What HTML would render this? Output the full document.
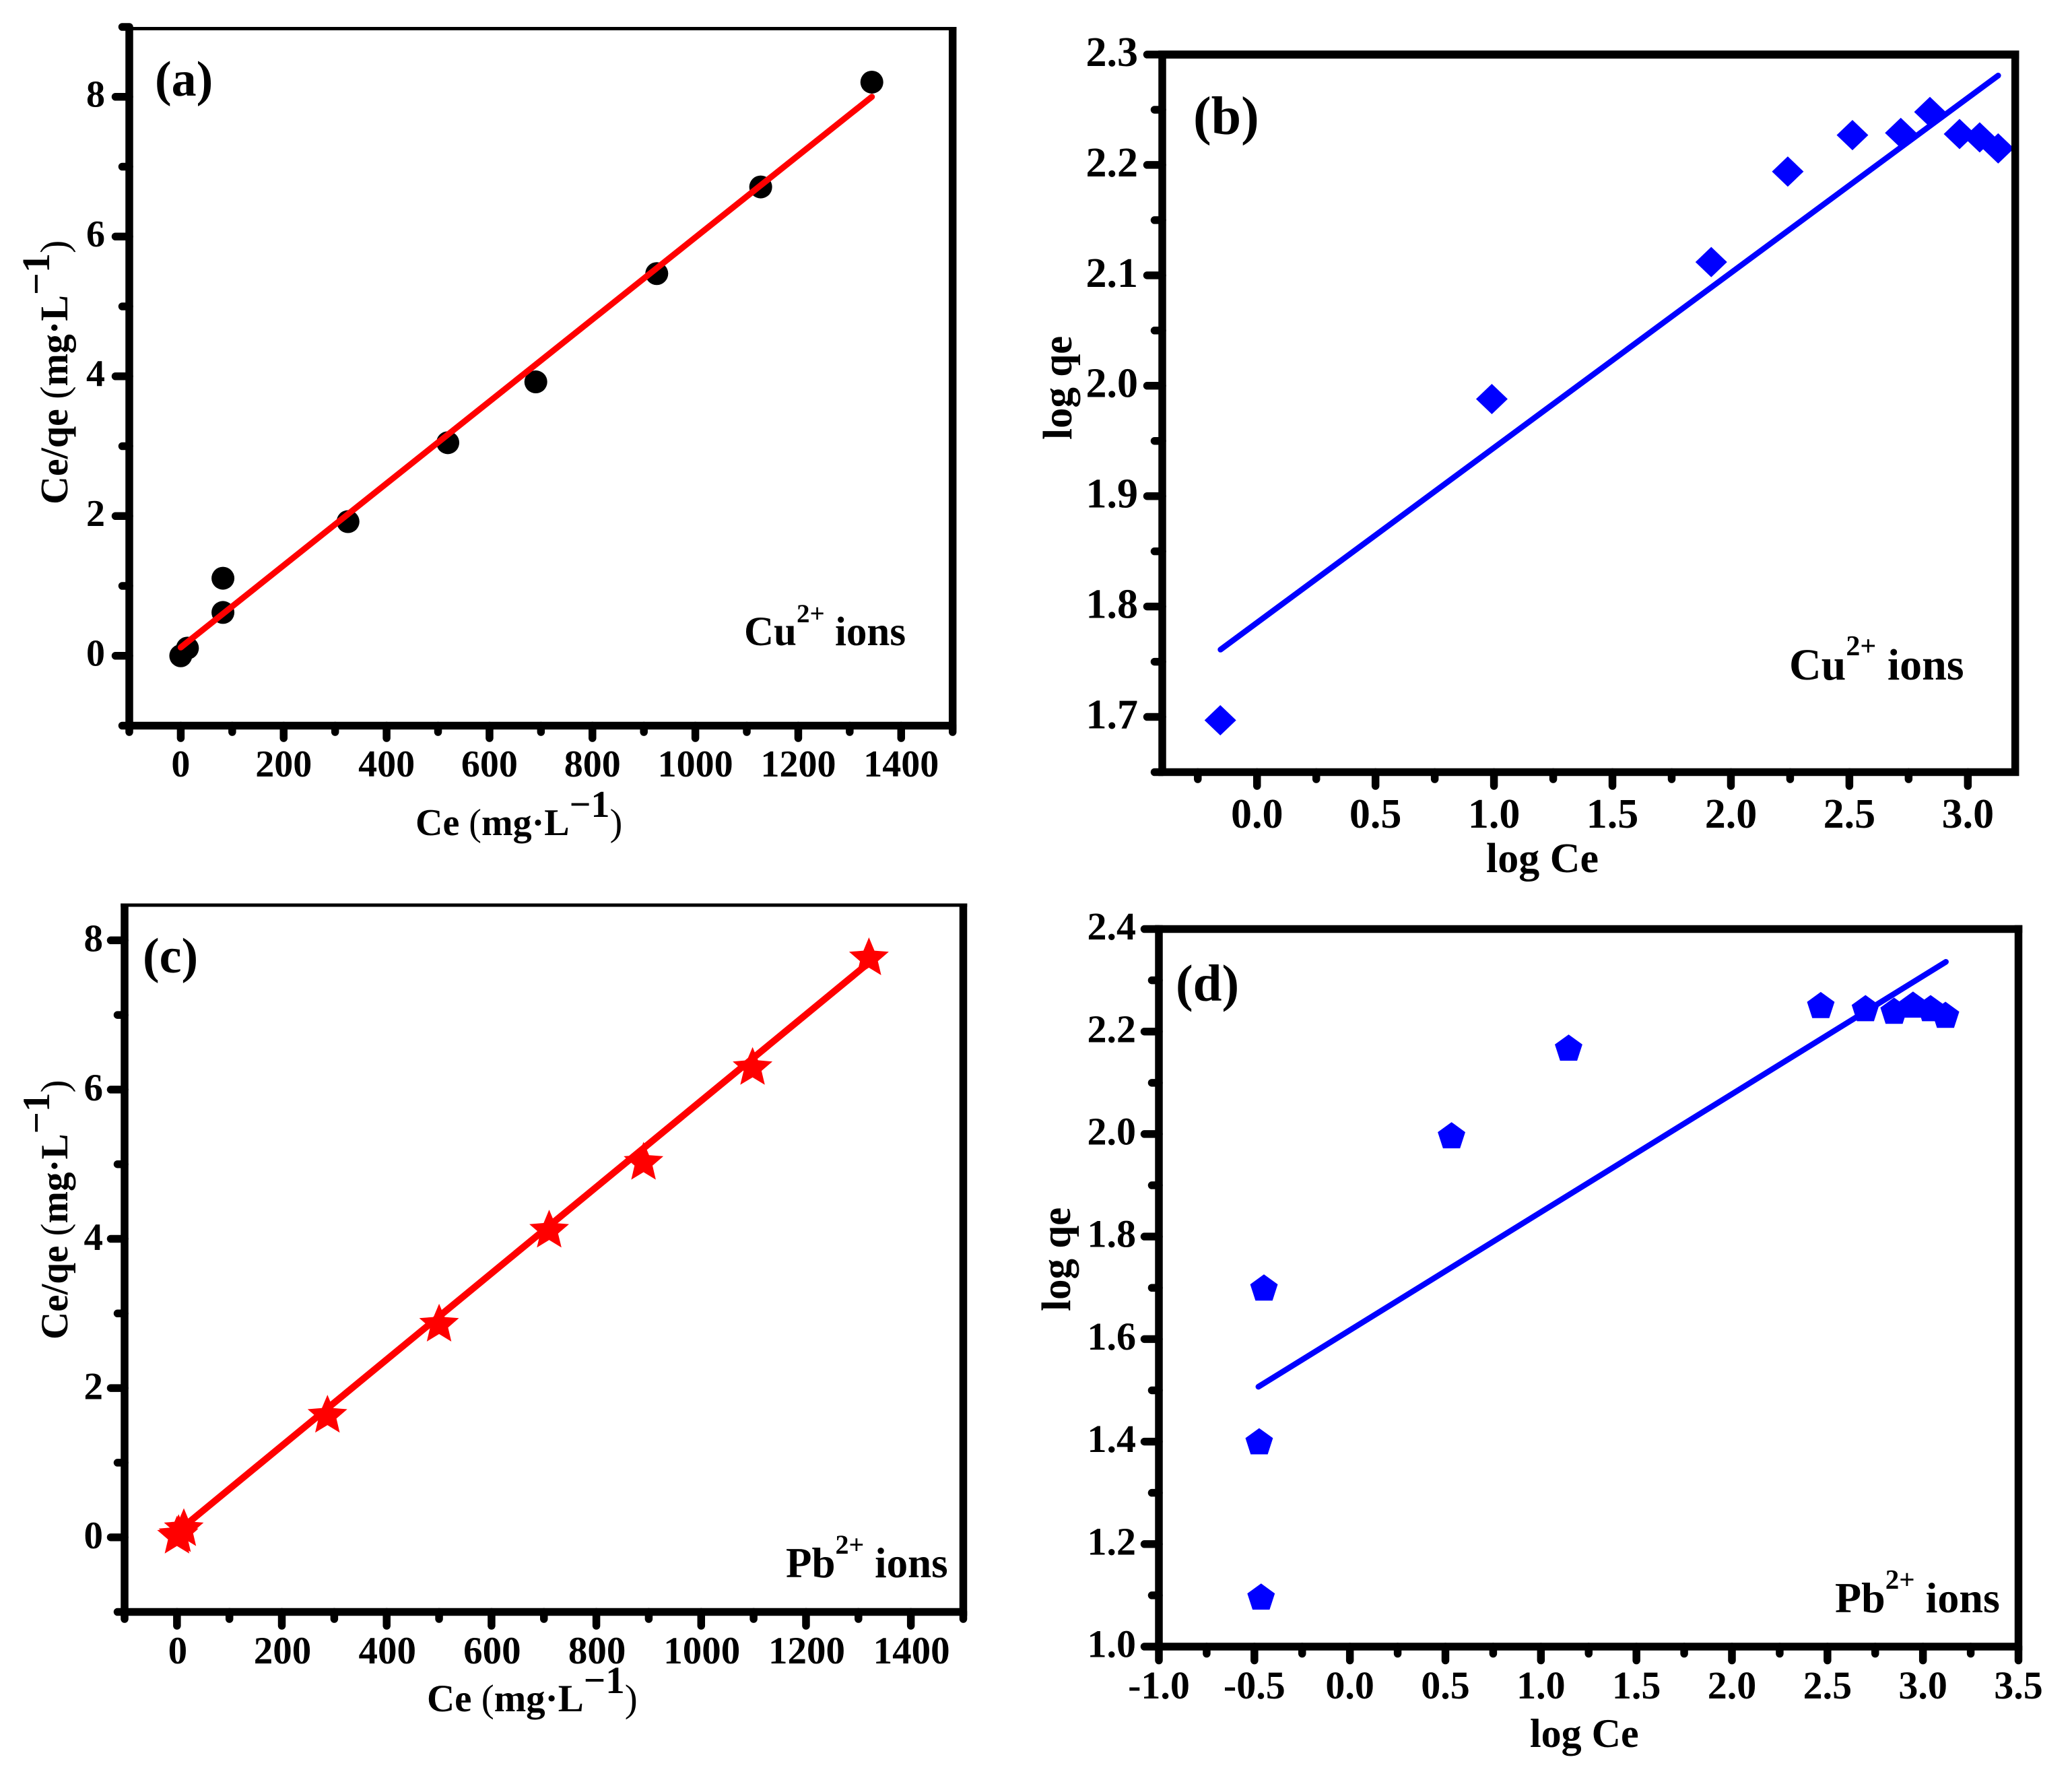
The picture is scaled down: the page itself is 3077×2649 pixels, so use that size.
<!DOCTYPE html>
<html lang="en">
<head>
<meta charset="utf-8">
<title>Isotherm fits for Cu2+ and Pb2+ ions</title>
<style>
  html, body { margin: 0; padding: 0; background: #fff; }
  svg { display: block; }
  text { font-family: "Liberation Serif", "Times New Roman", serif; font-weight: bold; fill: #000; }
  .thin { font-weight: normal; }
</style>
</head>
<body>
<svg id="figure" xmlns="http://www.w3.org/2000/svg" width="3077" height="2649" viewBox="0 0 3077 2649">
  <rect width="3077" height="2649" fill="#fff"/>

  <g id="panel-a"></g>
  <g id="panel-b"></g>
  <g id="panel-c"></g>
  <g id="panel-d"></g>

  <text x="230" y="142" font-size="74">(a)</text>
  <text x="1772" y="199" font-size="80">(b)</text>
  <text x="212" y="1444" font-size="74">(c)</text>
  <text x="1746" y="1486" font-size="77">(d)</text>

  <text x="1105" y="958" font-size="61">Cu<tspan font-size="39" dy="-34">2+</tspan><tspan dy="34"> ions</tspan></text>
  <text x="2657" y="1009" font-size="66">Cu<tspan font-size="42" dy="-36">2+</tspan><tspan dy="36"> ions</tspan></text>
  <text x="1167" y="2342" font-size="63">Pb<tspan font-size="40" dy="-35">2+</tspan><tspan dy="35"> ions</tspan></text>
  <text x="2725" y="2394" font-size="64">Pb<tspan font-size="41" dy="-35">2+</tspan><tspan dy="35"> ions</tspan></text>

  <text x="617" y="1240" font-size="56">Ce <tspan class="thin">(</tspan>mg·L<tspan dy="-27">−1</tspan><tspan class="thin" dy="27">)</tspan></text>
  <text transform="translate(100,749) rotate(-90)" font-size="58">Ce/qe <tspan class="thin">(</tspan>mg·L<tspan dy="-27">−1</tspan><tspan class="thin" dy="27">)</tspan></text>

  <text x="2207" y="1295" font-size="62">log Ce</text>
  <text transform="translate(1591,653) rotate(-90)" font-size="61">log qe</text>

  <text x="634" y="2541" font-size="57">Ce <tspan class="thin">(</tspan>mg·L<tspan dy="-27">−1</tspan><tspan class="thin" dy="27">)</tspan></text>
  <text transform="translate(100,1989) rotate(-90)" font-size="57">Ce/qe <tspan class="thin">(</tspan>mg·L<tspan dy="-27">−1</tspan><tspan class="thin" dy="27">)</tspan></text>

  <text x="2272" y="2594" font-size="60">log Ce</text>
  <text transform="translate(1589,1947) rotate(-90)" font-size="61">log qe</text>
</svg>

<script>
// ---------- Panel (a) data ----------
const aCe = [0, 13, 82, 82, 325, 519, 690, 925, 1127, 1343];
const aRatio = [0, 0.11, 0.62, 1.11, 1.92, 3.05, 3.92, 5.47, 6.71, 8.21];
const aFitCe = [0, 1343];
const aFitRatio = [0.12, 8.0];
const aXMajor = [0, 200, 400, 600, 800, 1000, 1200, 1400];
const aXMajorLabels = ['0', '200', '400', '600', '800', '1000', '1200', '1400'];
const aXMinor = [-100, 100, 300, 500, 700, 900, 1100, 1300, 1500];
const aYMajor = [0, 2, 4, 6, 8];
const aYMajorLabels = ['0', '2', '4', '6', '8'];
const aYMinor = [-1, 1, 3, 5, 7, 9];

// ---------- Panel (b) data ----------
const bLogCe = [-0.155, 0.991, 1.917, 2.24, 2.513, 2.717, 2.84, 2.965, 3.05, 3.128];
const bLogQe = [1.697, 1.988, 2.112, 2.194, 2.227, 2.229, 2.248, 2.228, 2.225, 2.215];
const bFitLogCe = [-0.154, 3.128];
const bFitLogQe = [1.761, 2.281];
const bXMajor = [0, 0.5, 1, 1.5, 2, 2.5, 3];
const bXMajorLabels = ['0.0', '0.5', '1.0', '1.5', '2.0', '2.5', '3.0'];
const bXMinor = [-0.25, 0.25, 0.75, 1.25, 1.75, 2.25, 2.75];
const bYMajor = [1.7, 1.8, 1.9, 2.0, 2.1, 2.2, 2.3];
const bYMajorLabels = ['1.7', '1.8', '1.9', '2.0', '2.1', '2.2', '2.3'];
const bYMinor = [1.65, 1.75, 1.85, 1.95, 2.05, 2.15, 2.25];

// ---------- Panel (c) data ----------
const cCe = [0, 3, 13, 287, 500, 710, 890, 1098, 1320];
const cRatio = [0.01, 0.03, 0.11, 1.63, 2.85, 4.11, 5.02, 6.29, 7.76];
const cFitCe = [0, 1320];
const cFitRatio = [0.07, 7.7];
const cXMajor = [0, 200, 400, 600, 800, 1000, 1200, 1400];
const cXMajorLabels = ['0', '200', '400', '600', '800', '1000', '1200', '1400'];
const cXMinor = [-100, 100, 300, 500, 700, 900, 1100, 1300, 1500];
const cYMajor = [0, 2, 4, 6, 8];
const cYMajorLabels = ['0', '2', '4', '6', '8'];
const cYMinor = [-1, 1, 3, 5, 7];

// ---------- Panel (d) data ----------
const dLogCe = [-0.465, -0.475, -0.45, 0.532, 1.145, 2.465, 2.699, 2.849, 2.948, 3.04, 3.118];
const dLogQe = [1.095, 1.398, 1.698, 1.995, 2.166, 2.249, 2.243, 2.238, 2.25, 2.243, 2.23];
const dFitLogCe = [-0.479, 3.12];
const dFitLogQe = [1.507, 2.336];
const dXMajor = [-1, -0.5, 0, 0.5, 1, 1.5, 2, 2.5, 3, 3.5];
const dXMajorLabels = ['-1.0', '-0.5', '0.0', '0.5', '1.0', '1.5', '2.0', '2.5', '3.0', '3.5'];
const dXMinor = [-0.75, -0.25, 0.25, 0.75, 1.25, 1.75, 2.25, 2.75, 3.25];
const dYMajor = [1.0, 1.2, 1.4, 1.6, 1.8, 2.0, 2.2, 2.4];
const dYMajorLabels = ['1.0', '1.2', '1.4', '1.6', '1.8', '2.0', '2.2', '2.4'];
const dYMinor = [1.1, 1.3, 1.5, 1.7, 1.9, 2.1, 2.3];

const NS = 'http://www.w3.org/2000/svg';

function scale(d0, d1, r0, r1) {
  return function (v) { return r0 + (v - d0) * (r1 - r0) / (d1 - d0); };
}

function svgEl(parent, tag, props) {
  const el = document.createElementNS(NS, tag);
  for (const k in props) el.setAttribute(k, props[k]);
  parent.appendChild(el);
  return el;
}

function polyPoints(cx, cy, outer, inner, n) {
  const pts = [];
  const steps = inner ? n * 2 : n;
  for (let i = 0; i < steps; i++) {
    const r = inner && i % 2 ? inner : outer;
    const a = -Math.PI / 2 + i * 2 * Math.PI / steps;
    pts.push((cx + r * Math.cos(a)).toFixed(1) + ',' + (cy + r * Math.sin(a)).toFixed(1));
  }
  return pts.join(' ');
}

function drawMarker(g, kind, cx, cy, color) {
  let el;
  if (kind === 'circle') {
    el = svgEl(g, 'circle', { cx: cx, cy: cy, r: 17, fill: color });
  } else if (kind === 'diamond') {
    el = svgEl(g, 'polygon', {
      points: cx + ',' + (cy - 22.5) + ' ' + (cx + 23.5) + ',' + cy + ' ' + cx + ',' + (cy + 22.5) + ' ' + (cx - 23.5) + ',' + cy,
      fill: color
    });
  } else if (kind === 'star') {
    el = svgEl(g, 'polygon', { points: polyPoints(cx, cy, 31, 14, 5), fill: color });
  } else {
    el = svgEl(g, 'polygon', { points: polyPoints(cx, cy, 21.5, 0, 5), fill: color });
  }
  
  
}

function drawPanel(c) {
  const g = document.getElementById(c.id);
  const x = scale(c.xDomain[0], c.xDomain[1], c.left, c.right);
  const y = scale(c.yDomain[0], c.yDomain[1], c.bottom, c.scaleTop);

  // data markers
  const points = svgEl(g, 'g', {});
  
  
  c.px.forEach(function (v, i) {
    drawMarker(points, c.marker, x(v), y(c.py[i]), c.markerColor);
  });

  // fit line
  const fit = svgEl(g, 'line', {
    x1: x(c.fitX[0]), y1: y(c.fitY[0]), x2: x(c.fitX[1]), y2: y(c.fitY[1]),
    stroke: c.lineColor, 'stroke-width': c.lineWidth, 'stroke-linecap': 'round'
  });
  
  

  // frame
  const spineW = 11.5;
  const frame = svgEl(g, 'path', {
    d: 'M' + c.left + ' ' + (c.top - c.topW / 2) + 'V' + c.bottom + 'H' + c.right + 'V' + (c.top - c.topW / 2),
    fill: 'none', stroke: '#000', 'stroke-width': spineW
  });
  
  
  const topSpine = svgEl(g, 'line', {
    x1: c.left - spineW / 2, x2: c.right + spineW / 2, y1: c.top, y2: c.top,
    stroke: '#000', 'stroke-width': c.topW
  });
  
  

  // x ticks
  c.xMajor.forEach(function (v, i) {
    const t = svgEl(g, 'line', {
      x1: x(v), x2: x(v), y1: c.bottom, y2: c.bottom + c.xMajorLen - 5.5,
      stroke: '#000', 'stroke-width': 11.5, 'stroke-linecap': 'round'
    });
    
    
    const l = svgEl(g, 'text', {
      x: x(v) + c.xLabelDx, y: c.xLabelY, 'font-size': c.labelSize, 'text-anchor': 'middle'
    });
    l.textContent = c.xLabels[i];
    
    
  });
  c.xMinor.forEach(function (v) {
    const t = svgEl(g, 'line', {
      x1: x(v), x2: x(v), y1: c.bottom, y2: c.bottom + c.xMinorLen - 5.5,
      stroke: '#000', 'stroke-width': 11.5, 'stroke-linecap': 'round'
    });
    
    
  });

  // y ticks
  c.yMajor.forEach(function (v, i) {
    const t = svgEl(g, 'line', {
      x1: c.left, x2: c.left - c.yMajorLen + 5.5, y1: y(v), y2: y(v),
      stroke: '#000', 'stroke-width': 11.5, 'stroke-linecap': 'round'
    });
    
    
    const l = svgEl(g, 'text', {
      x: c.yLabelX, y: y(v) + c.labelSize * 0.338 + c.labelDy, 'font-size': c.labelSize, 'text-anchor': 'end'
    });
    l.textContent = c.yLabels[i];
    
    
  });
  c.yMinor.forEach(function (v) {
    const t = svgEl(g, 'line', {
      x1: c.left, x2: c.left - c.yMinorLen + 5.5, y1: y(v), y2: y(v),
      stroke: '#000', 'stroke-width': 11.5, 'stroke-linecap': 'round'
    });
    
    
  });
}

drawPanel({
  id: 'panel-a', left: 192, right: 1414.7, bottom: 1077.5, top: 42.5, scaleTop: 40, topW: 5,
  xDomain: [-100, 1500], yDomain: [-1, 9],
  px: aCe, py: aRatio, fitX: aFitCe, fitY: aFitRatio,
  marker: 'circle', markerColor: '#000', lineColor: '#f00', lineWidth: 9,
  xMajor: aXMajor, xLabels: aXMajorLabels, xMinor: aXMinor,
  yMajor: aYMajor, yLabels: aYMajorLabels, yMinor: aYMinor,
  xMajorLen: 24, xMinorLen: 15, yMajorLen: 26, yMinorLen: 16,
  labelSize: 56, labelDy: -4, xLabelY: 1153, xLabelDx: 0, yLabelX: 156
});

drawPanel({
  id: 'panel-b', left: 1726, right: 2992.7, bottom: 1146.5, top: 81, scaleTop: 81, topW: 12,
  xDomain: [-0.4, 3.2], yDomain: [1.65, 2.3],
  px: bLogCe, py: bLogQe, fitX: bFitLogCe, fitY: bFitLogQe,
  marker: 'diamond', markerColor: '#00f', lineColor: '#00f', lineWidth: 8.5,
  xMajor: bXMajor, xLabels: bXMajorLabels, xMinor: bXMinor,
  yMajor: bYMajor, yLabels: bYMajorLabels, yMinor: bYMinor,
  xMajorLen: 26, xMinorLen: 16, yMajorLen: 28, yMinorLen: 17,
  labelSize: 62, labelDy: -4, xLabelY: 1229, xLabelDx: 0, yLabelX: 1690
});

drawPanel({
  id: 'panel-c', left: 185, right: 1430.5, bottom: 2393.5, top: 1344, scaleTop: 1340.9, topW: 5,
  xDomain: [-100, 1500], yDomain: [-1, 8.5],
  px: cCe, py: cRatio, fitX: cFitCe, fitY: cFitRatio,
  marker: 'star', markerColor: '#f00', lineColor: '#f00', lineWidth: 10,
  xMajor: cXMajor, xLabels: cXMajorLabels, xMinor: cXMinor,
  yMajor: cYMajor, yLabels: cYMajorLabels, yMinor: cYMinor,
  xMajorLen: 26, xMinorLen: 16, yMajorLen: 26, yMinorLen: 16,
  labelSize: 57, labelDy: -3, xLabelY: 2470, xLabelDx: 1, yLabelX: 153
});

drawPanel({
  id: 'panel-d', left: 1721, right: 2997.5, bottom: 2445, top: 1379.5, scaleTop: 1379.5, topW: 11.5,
  xDomain: [-1, 3.5], yDomain: [1.0, 2.4],
  px: dLogCe, py: dLogQe, fitX: dFitLogCe, fitY: dFitLogQe,
  marker: 'pentagon', markerColor: '#00f', lineColor: '#00f', lineWidth: 8.5,
  xMajor: dXMajor, xLabels: dXMajorLabels, xMinor: dXMinor,
  yMajor: dYMajor, yLabels: dYMajorLabels, yMinor: dYMinor,
  xMajorLen: 26, xMinorLen: 16, yMajorLen: 27, yMinorLen: 16,
  labelSize: 58, labelDy: -4, xLabelY: 2522, xLabelDx: 0, yLabelX: 1687
});
</script>
</body>
</html>
